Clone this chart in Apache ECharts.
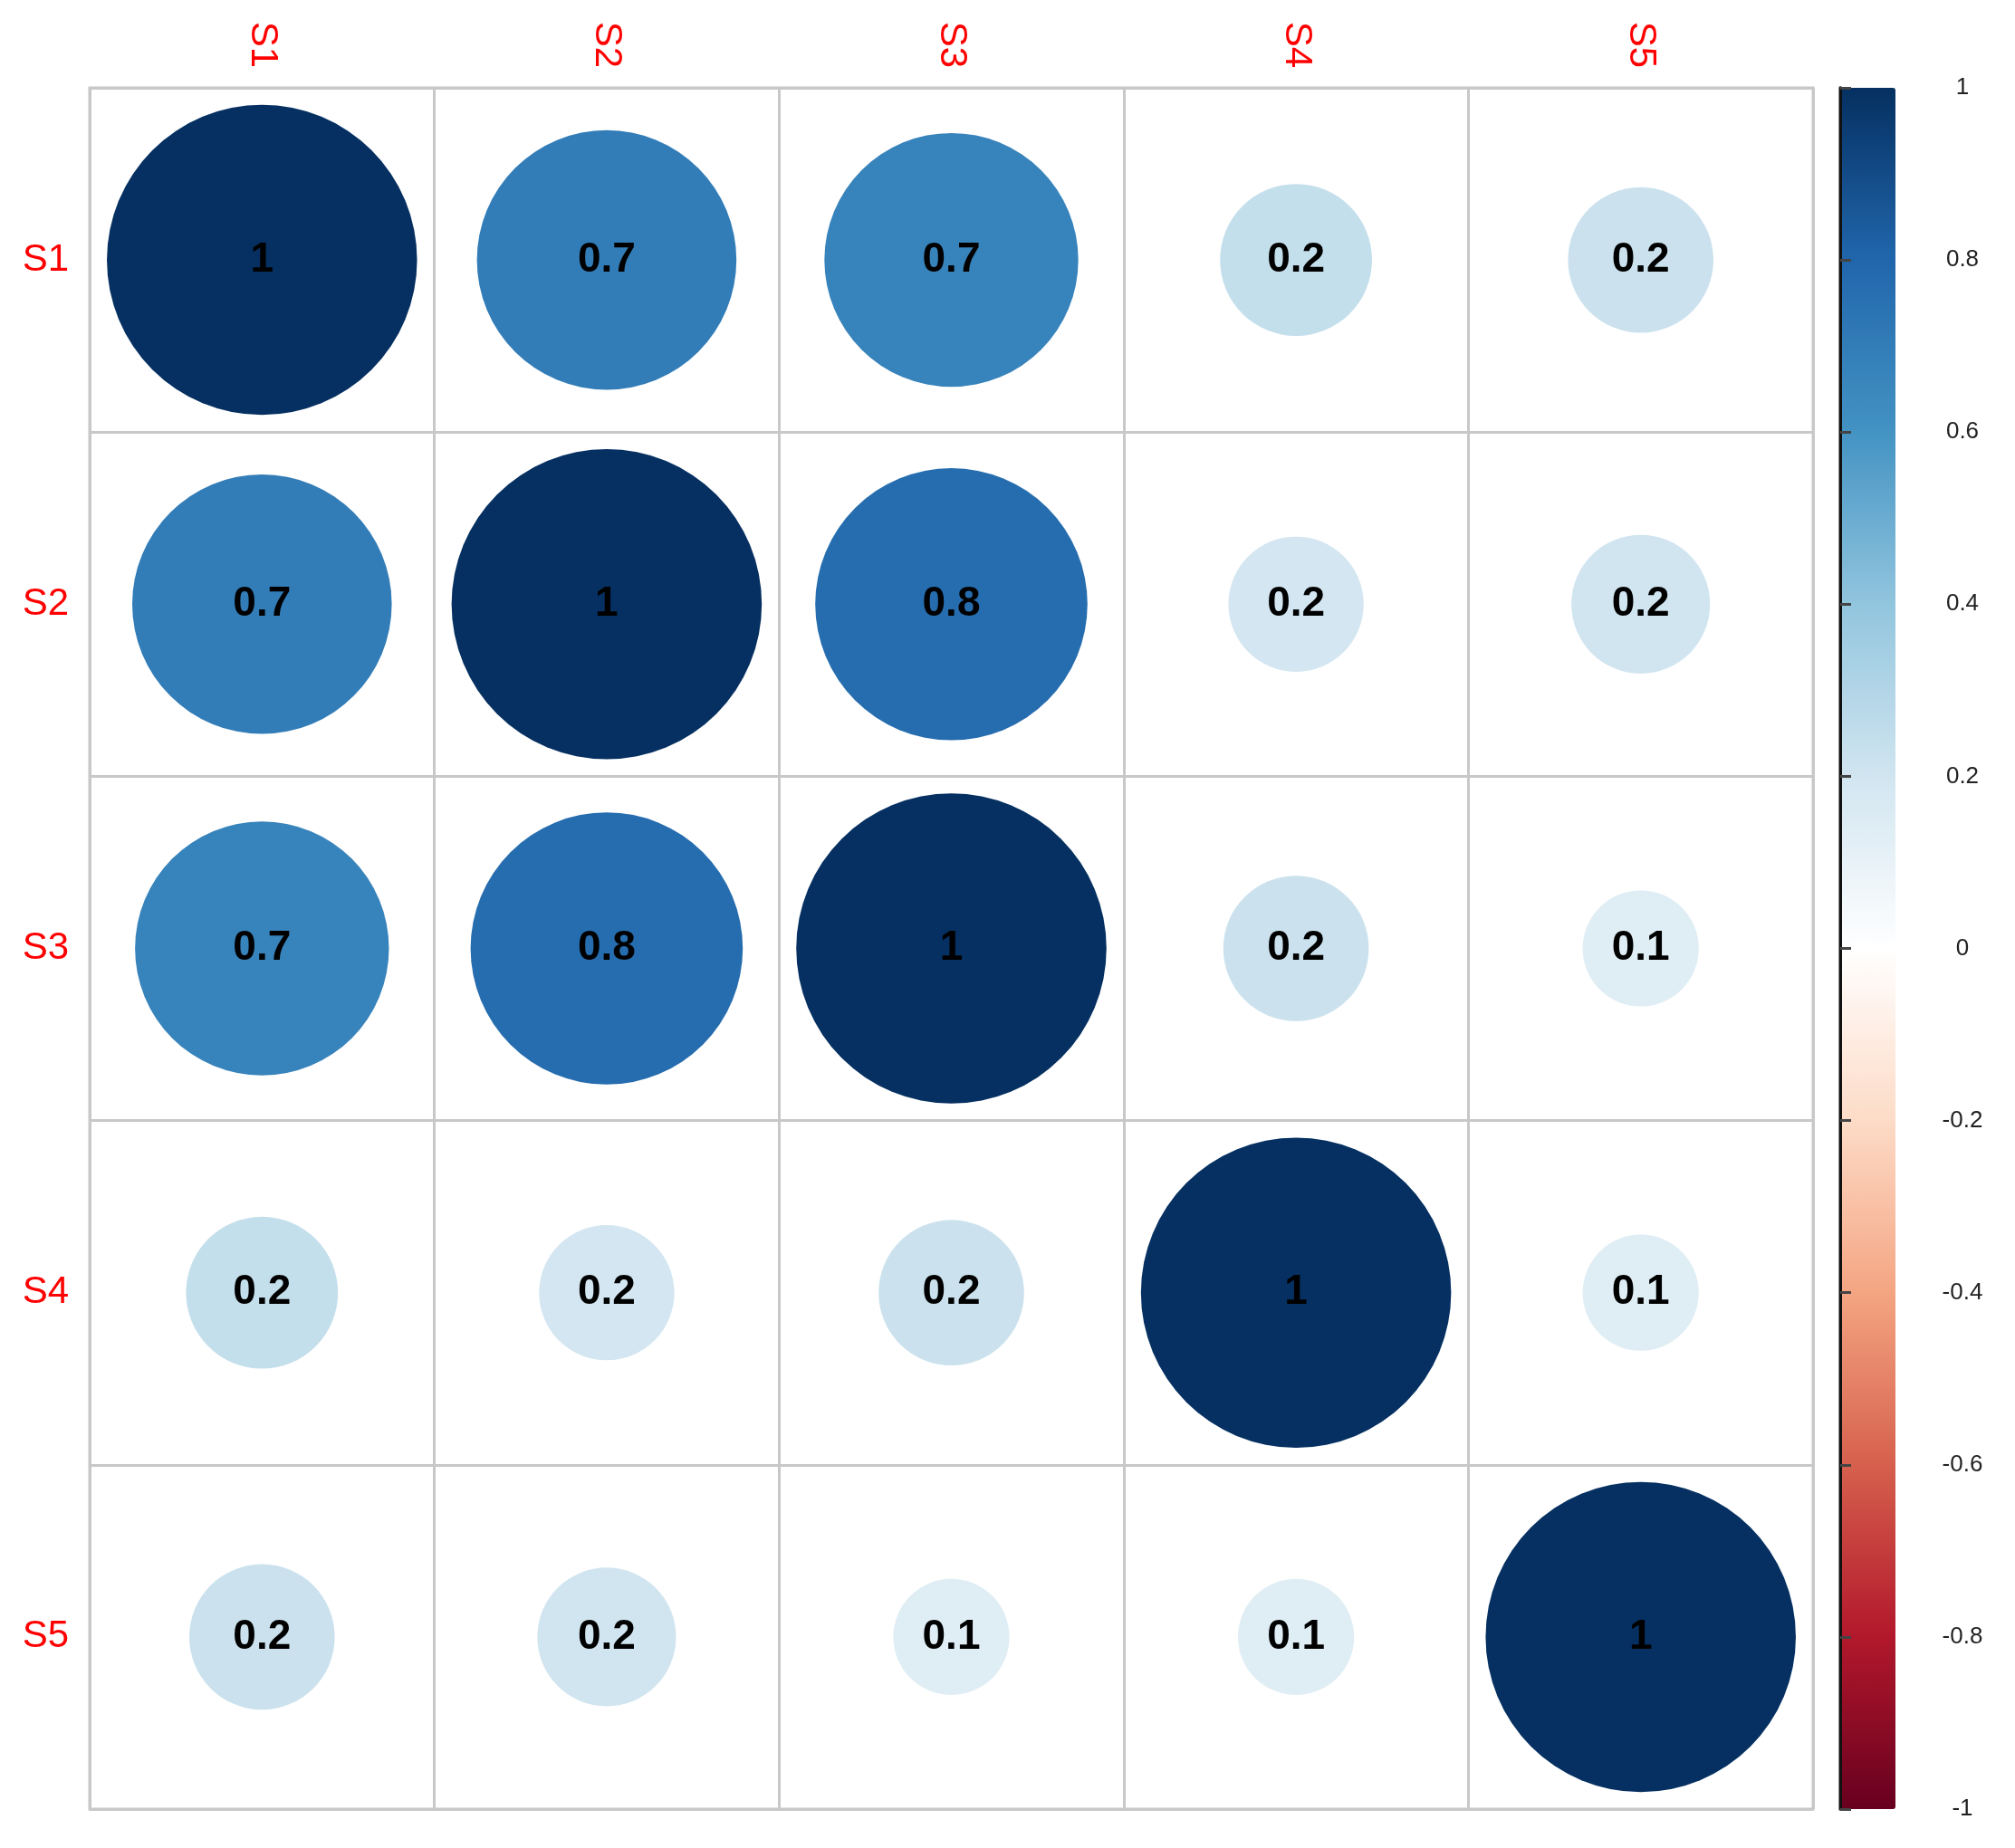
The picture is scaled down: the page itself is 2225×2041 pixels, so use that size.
<!DOCTYPE html>
<html>
<head>
<meta charset="utf-8">
<title>corrplot</title>
<script src="https://cdn.jsdelivr.net/npm/echarts@6/dist/echarts.min.js"></script>
<style>
  html,body{margin:0;padding:0;background:#fff;}
  #main{width:2225px;height:2041px;}
</style>
</head>
<body>
<div id="main"></div>
<script>
var names=['S1','S2','S3','S4','S5'];
var rowS1=[1,0.70,0.67,0.24,0.22];
var rowS2=[0.70,1,0.77,0.19,0.20];
var rowS3=[0.67,0.77,1,0.22,0.14];
var rowS4=[0.24,0.19,0.22,1,0.14];
var rowS5=[0.22,0.20,0.14,0.14,1];
var rdbu=['#67001F','#B2182B','#D6604D','#F4A582','#FDDBC7','#FFFFFF','#D1E5F0','#92C5DE','#4393C3','#2166AC','#053061'];

var gridLeft=99,gridTop=97,gridW=1903,gridH=1901;
var cell=gridW/names.length;

var rows=[rowS1,rowS2,rowS3,rowS4,rowS5];
var points=[];
for(var i=0;i<rows.length;i++){
  for(var j=0;j<rows[i].length;j++){
    points.push([j,i,rows[i][j]]);
  }
}
function fmt(v){
  var r=Math.round(v*10)/10;
  return String(r);
}

var myChart=echarts.init(document.getElementById('main'));
var option={
  backgroundColor:'#fff',
  animation:false,
  grid:[{
    left:gridLeft,top:gridTop,width:gridW,height:gridH,
    show:true,borderColor:'#c8c8c8',borderWidth:3
  },{
    left:2032,top:gridTop,width:61,height:gridH,
    show:false
  }],
  xAxis:[{
    type:'category',gridIndex:0,data:names,position:'top',
    axisLine:{show:false},axisTick:{show:false},
    splitLine:{show:true,lineStyle:{color:'#c8c8c8',width:3}},
    axisLabel:{rotate:90,margin:22,color:'#ff0000',fontSize:42,fontFamily:'Liberation Sans'}
  },{
    type:'value',gridIndex:1,show:false
  }],
  yAxis:[{
    type:'category',gridIndex:0,data:names,inverse:true,
    axisLine:{show:false},axisTick:{show:false},
    splitLine:{show:true,lineStyle:{color:'#c8c8c8',width:3}},
    axisLabel:{margin:23,color:'#ff0000',fontSize:42,fontFamily:'Liberation Sans'}
  },{
    type:'value',gridIndex:1,position:'right',min:-1,max:1,interval:0.2,z:6,
    axisLine:{show:true,lineStyle:{color:'#888',width:4}},
    axisTick:{show:true,inside:false,length:12,lineStyle:{color:'#444',width:3}},
    splitLine:{show:false},
    axisLabel:{margin:74,align:'center',color:'#222',fontSize:26,fontFamily:'Liberation Sans'}
  },{
    // dark left edge of the colour bar
    type:'value',gridIndex:1,position:'left',min:-1,max:1,z:6,
    axisLine:{show:true,lineStyle:{color:'#111',width:3}},
    axisTick:{show:false},axisLabel:{show:false},splitLine:{show:false}
  }],
  visualMap:{
    type:'continuous',min:-1,max:1,dimension:2,seriesIndex:0,
    calculable:false,realtime:false,
    left:2032,top:gridTop,padding:0,
    itemWidth:61,itemHeight:gridH,
    text:null,showLabel:false,z:1,
    inRange:{color:rdbu}
  },
  series:[{
    type:'scatter',
    xAxisIndex:0,yAxisIndex:0,
    data:points,
    symbol:'circle',
    symbolSize:function(v){return 0.9*cell*Math.sqrt(Math.abs(v[2]));},
    itemStyle:{opacity:1},
    label:{
      show:true,position:'inside',
      formatter:function(p){return fmt(p.value[2]);},
      color:'#000',fontSize:46,fontWeight:'bold',fontFamily:'Liberation Sans'
    },
    z:3
  }]
};
myChart.setOption(option);
</script>
</body>
</html>
